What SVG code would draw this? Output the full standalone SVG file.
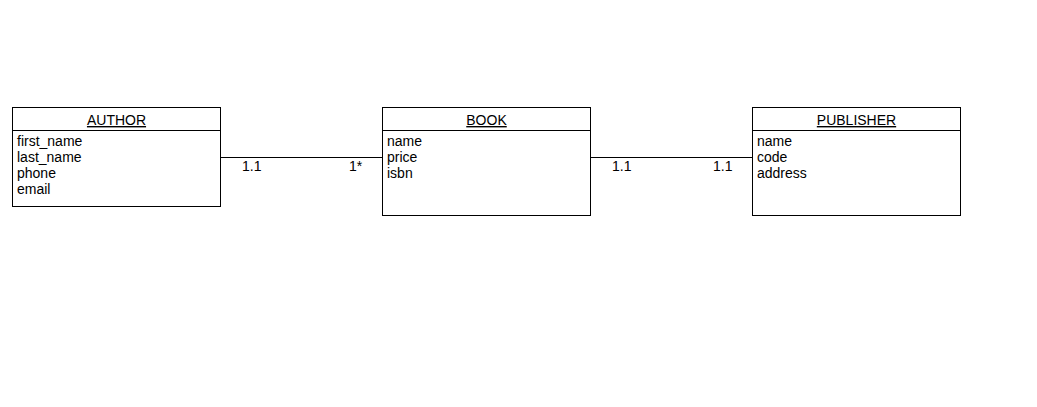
<svg xmlns="http://www.w3.org/2000/svg" width="1037" height="407" viewBox="0 0 1037 407">
<style>
.box{fill:#fff;stroke:#000;stroke-width:1}
.t{font-family:"Liberation Sans",Arial,sans-serif;font-size:14px;fill:#000}
.h{text-anchor:middle;text-decoration:underline}
.c{stroke:#000;stroke-width:1;fill:none}
</style>
<rect width="1037" height="407" fill="#fff"/>
<g id="connectors">
<line class="c" x1="220.5" y1="157.5" x2="382.5" y2="157.5"/>
<line class="c" x1="590.5" y1="157.5" x2="752.5" y2="157.5"/>
<text class="t" x="242" y="171">1.1</text>
<text class="t" x="349" y="171">1*</text>
<text class="t" x="612" y="171">1.1</text>
<text class="t" x="713" y="171">1.1</text>
</g>
<g id="author">
<rect class="box" x="12.5" y="107.5" width="208" height="99"/>
<line class="c" x1="12.5" y1="130.5" x2="220.5" y2="130.5"/>
<text class="t h" x="116.5" y="125">AUTHOR</text>
<text class="t" x="17" y="146">first_name</text>
<text class="t" x="17" y="162">last_name</text>
<text class="t" x="17" y="178">phone</text>
<text class="t" x="17" y="194">email</text>
</g>
<g id="book">
<rect class="box" x="382.5" y="107.5" width="208" height="108"/>
<line class="c" x1="382.5" y1="130.5" x2="590.5" y2="130.5"/>
<text class="t h" x="486.5" y="125">BOOK</text>
<text class="t" x="387" y="146">name</text>
<text class="t" x="387" y="162">price</text>
<text class="t" x="387" y="178">isbn</text>
</g>
<g id="publisher">
<rect class="box" x="752.5" y="107.5" width="208" height="108"/>
<line class="c" x1="752.5" y1="130.5" x2="960.5" y2="130.5"/>
<text class="t h" x="856.5" y="125">PUBLISHER</text>
<text class="t" x="757" y="146">name</text>
<text class="t" x="757" y="162">code</text>
<text class="t" x="757" y="178">address</text>
</g>
</svg>
